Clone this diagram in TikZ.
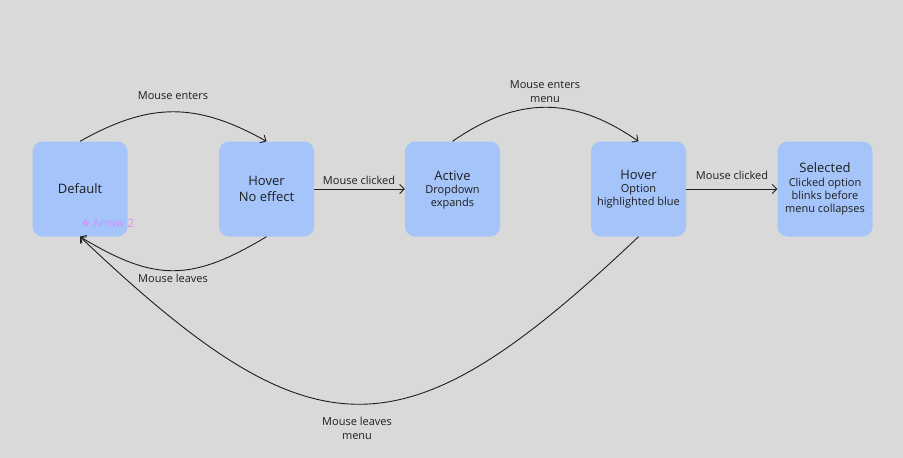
\documentclass[tikz,border=0pt]{standalone}
\usepackage{fontspec}
\setmainfont{Open Sans}
\newfontfamily\symfont{DejaVu Sans}
\usetikzlibrary{arrows.meta}
\definecolor{bg}{HTML}{D9D9D9}
\definecolor{boxfill}{HTML}{A4C4FA}
\definecolor{ink}{HTML}{1E1E1E}
\definecolor{figma}{RGB}{206,148,250}
\tikzset{
  state/.style={fill=boxfill, rounded corners=10pt, minimum width=95pt, minimum height=95pt,
    inner sep=0pt, align=center, text=ink, font=\fontsize{11}{13.2}\selectfont},
  conn/.style={draw=ink, line width=0.9pt, -{Straight Barb[length=4.5pt,width=9pt,line width=0.9pt]}},
  elabel/.style={text=ink, align=center, font=\fontsize{11}{14}\selectfont, inner sep=0pt}
}
\newcommand{\ttl}[1]{{\fontsize{13}{13}\selectfont #1}}
\begin{document}
\begin{tikzpicture}[x=1pt,y=-1pt]
\fill[bg] (0,0) rectangle (903,458);
\useasboundingbox (0,0) rectangle (903,458);
\node[state] (def) at (80,189) {\ttl{Default}};
\node[state, font=\fontsize{13}{16}\selectfont] (hov1) at (266.5,189) {Hover\\No effect};
\node[state, text depth=0pt] (act) at (452.5,189) {\ttl{Active}\\Dropdown\\expands};
\node[state] (hov2) at (638.5,189) {\ttl{Hover}\\Option\\highlighted blue};
\node[state] (sel) at (825,189) {\ttl{Selected}\\Clicked option\\blinks before\\menu collapses};
\node[text=figma, font=\fontsize{11.5}{11.5}\selectfont, anchor=west, inner sep=0pt] (lbl) at (81,223.5) {{\symfont\fontsize{10.5}{10.5}\selectfont ❖}\,Arrow 2};
% connectors
\draw[conn] (def.north) .. controls (150,102) and (196,102) .. (hov1.north);
\draw[conn] (hov1.south) .. controls (191,282) and (155,282) .. (def.south);
\draw[conn] (hov1.east) -- (act.west);
\draw[conn] (act.north) .. controls (518,96) and (573,96) .. (hov2.north);
\draw[conn] (hov2.east) -- (sel.west);
\draw[conn] (hov2.south) .. controls (403,460) and (315,460) .. (def.south);
% labels
\node[elabel] (l1) at (173,96) {Mouse enters};
\node[elabel] (l2) at (173,278) {Mouse leaves};
\node[elabel] (l3) at (359,180) {Mouse clicked};
\node[elabel] (l4) at (545,92) {Mouse enters\\menu};
\node[elabel] (l5) at (732,175) {Mouse clicked};
\node[elabel] (l6) at (357,428) {Mouse leaves\\menu};
\end{tikzpicture}
\end{document}
